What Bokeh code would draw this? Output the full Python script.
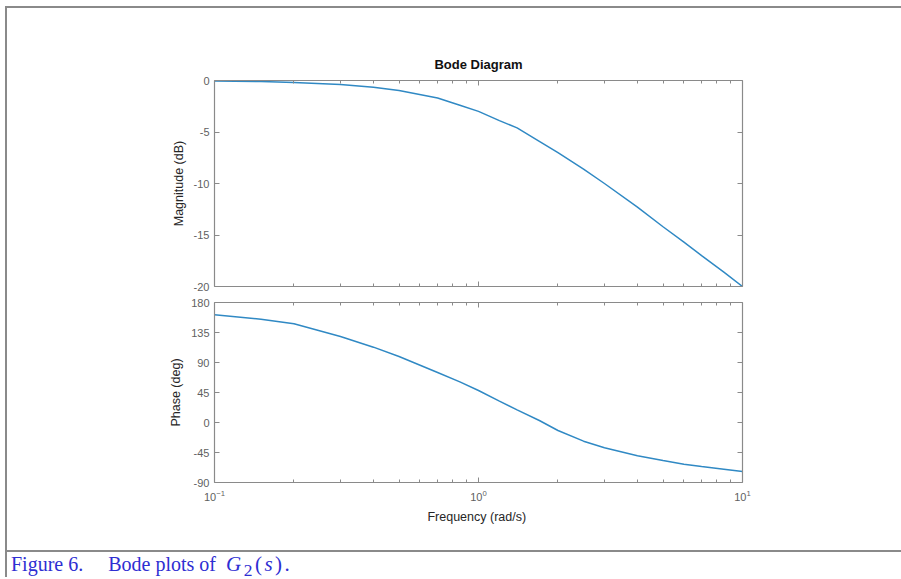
from bokeh.plotting import figure
from bokeh.models import Range1d, LogAxis, LinearAxis, FixedTicker, Div, CustomJSTickFormatter
from bokeh.layouts import column
from bokeh.embed import file_html
from bokeh.resources import INLINE

# ---- data ----
freq = [0.1, 0.15, 0.2, 0.3, 0.4, 0.5, 0.7, 0.85, 1.0, 1.2, 1.4, 1.7,
        2.0, 2.5, 3.0, 4.0, 5.0, 6.0, 7.0, 8.5, 10.0]
mag_db = [-0.04, -0.1, -0.2, -0.4, -0.65, -0.97, -1.7, -2.4, -3.0, -3.9, -4.6, -5.9,
          -7.0, -8.6, -10.0, -12.3, -14.2, -15.7, -17.0, -18.6, -20.0]
phase_deg = [161.5, 155.0, 148.0, 129.0, 113.0, 99.0, 75.0, 61.0, 48.0, 32.0, 19.0, 3.0,
             -12.0, -28.0, -38.0, -50.0, -57.0, -62.5, -66.0, -70.0, -73.5]
freq_ticks = [0.1, 1.0, 10.0]
freq_minor = [0.2, 0.3, 0.4, 0.5, 0.6, 0.7, 0.8, 0.9, 2, 3, 4, 5, 6, 7, 8, 9]
mag_ticks = [-20, -15, -10, -5, 0]
phase_ticks = [-90, -45, 0, 45, 90, 135, 180]

AX = "#8a8a8a"
LINE = "#3089c4"
FONT = "Liberation Sans"


def style_axis(ax, labels=True):
    ax.axis_line_color = AX
    ax.axis_line_width = 1.2
    ax.major_tick_line_color = AX
    ax.minor_tick_line_color = AX
    ax.major_tick_in = 5
    ax.major_tick_out = 0
    ax.minor_tick_in = 3
    ax.minor_tick_out = 0
    ax.major_label_text_color = "#5f5f5f"
    ax.major_label_text_font = FONT
    ax.major_label_text_font_size = "11px"
    ax.axis_label_text_font = FONT
    ax.axis_label_text_font_size = "12.5px"
    ax.axis_label_text_font_style = "normal"
    ax.axis_label_text_color = "#262626"
    if not labels:
        ax.formatter = CustomJSTickFormatter(code="return ''")
        ax.major_label_standoff = 0


def make_fig(yr, yticks, height, top, bottom, title=None):
    p = figure(width=894, height=height, x_axis_type="log",
               x_range=Range1d(0.1, 10), y_range=Range1d(*yr),
               output_backend="svg", toolbar_location=None,
               min_border_left=207, min_border_right=159,
               min_border_top=top, min_border_bottom=bottom,
               title=title)
    p.outline_line_color = None
    p.xgrid.visible = False
    p.ygrid.visible = False
    p.background_fill_color = "white"
    p.border_fill_color = "white"
    xt = FixedTicker(ticks=freq_ticks, minor_ticks=freq_minor)
    yt = FixedTicker(ticks=yticks)
    bottom_ax = p.below[0]
    left_ax = p.left[0]
    bottom_ax.ticker = xt
    left_ax.ticker = yt
    top_ax = LogAxis(ticker=xt)
    right_ax = LinearAxis(ticker=yt)
    p.add_layout(top_ax, "above")
    p.add_layout(right_ax, "right")
    style_axis(top_ax, labels=False)
    style_axis(right_ax, labels=False)
    style_axis(left_ax)
    left_ax.formatter = CustomJSTickFormatter(code="return tick.toString()")
    return p, bottom_ax, left_ax


p1, b1, l1 = make_fig((-20, 0), mag_ticks, 286, 72, 8, title="Bode Diagram")
p1.title.align = "center"
p1.title.text_font = FONT
p1.title.text_font_size = "13px"
p1.title.text_font_style = "bold"
p1.title.text_color = "#111111"
p1.title.standoff = 17
style_axis(b1, labels=False)
l1.axis_label = "Magnitude (dB)"
p1.line(freq, mag_db, line_color=LINE, line_width=1.5)

p2, b2, l2 = make_fig((-90, 180), phase_ticks, 256, 8, 68)
style_axis(b2)
b2.major_label_standoff = 7
b2.axis_label_standoff = 6
b2.axis_label = "Frequency  (rad/s)"
l2.axis_label = "Phase (deg)"
p2.line(freq, phase_deg, line_color=LINE, line_width=1.5)

cap = Div(text=('Figure 6.&nbsp;&nbsp;&nbsp;&nbsp; Bode plots of &nbsp;'
                '<span style="font-size:21px;letter-spacing:2.5px"><i>G</i><sub>2</sub>(<i>s</i>).</span>'),
          width=894, height=27, margin=0,
          styles={"border-top": "2px solid #8a8a8a", "font-family": "Liberation Serif",
                  "font-size": "20px", "color": "#2e2ed2", "padding-left": "4px",
                  "line-height": "25px", "box-sizing": "border-box",
                  "white-space": "nowrap"})

layout = column(p1, p2, cap, margin=(6, 0, 0, 5),
                styles={"border-top": "2px solid #8a8a8a", "border-left": "2px solid #8a8a8a"})

open("out.html", "w").write(file_html(layout, INLINE))
